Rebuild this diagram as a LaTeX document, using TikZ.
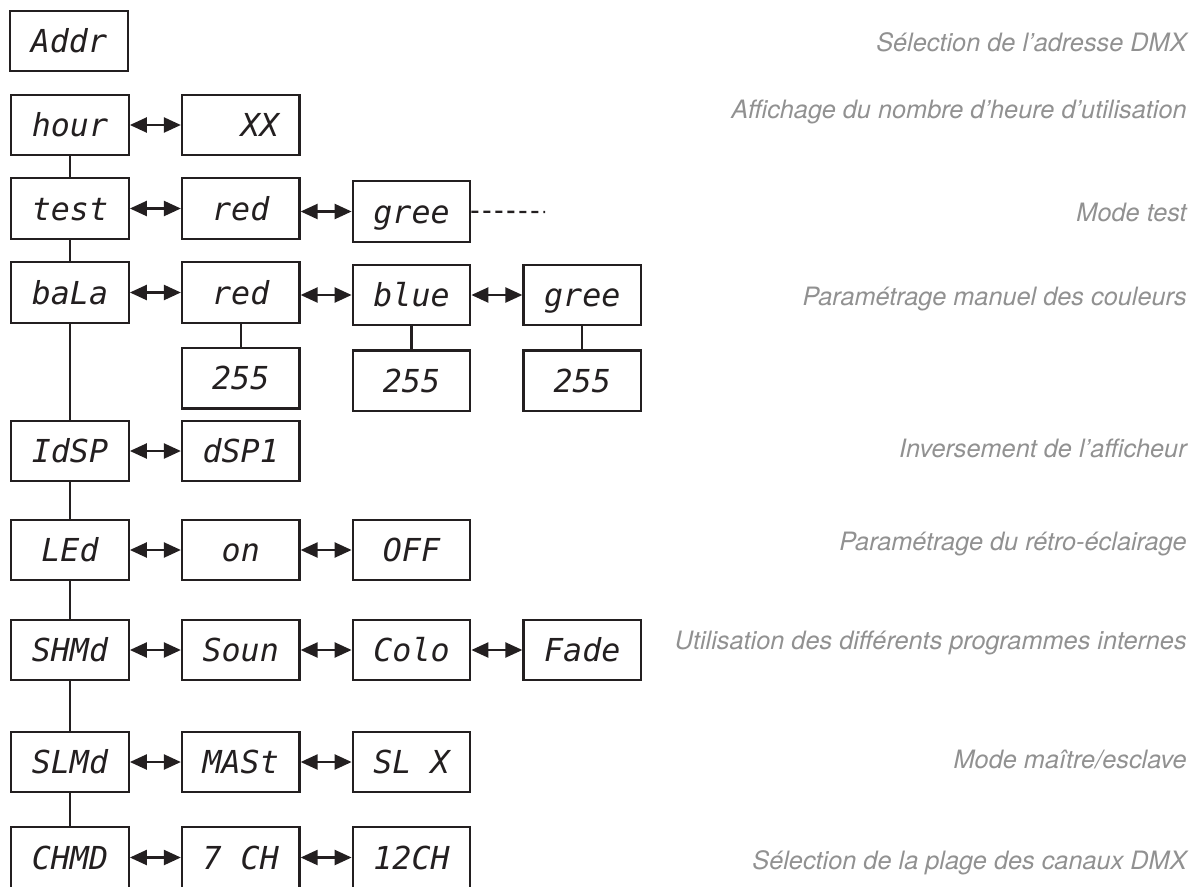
\documentclass[tikz,border=0pt]{standalone}
\usepackage{fontspec}
\usepackage{xcolor}
\usetikzlibrary{arrows.meta, positioning}
\newfontfamily\lcdfont{DejaVu Sans Mono}
\newfontfamily\descfont{TeX Gyre Heros}
\definecolor{panelBlack}{RGB}{35, 31, 32}
\definecolor{panelGray}{RGB}{145, 145, 145}

\begin{document}
\begin{tikzpicture}[x=0.02cm, y=-0.02cm, node distance=1.02cm]
        \tikzstyle{lcd} = [rectangle, draw=panelBlack, line width=1.3pt, minimum width=2.35cm, minimum height=1.21cm, inner sep=0pt, text=panelBlack, font=\lcdfont\itshape\fontsize{18}{20}\selectfont, text height=13.1pt, text depth=0pt]
        \tikzstyle{link} = [panelBlack, line width=1.3pt]
        \tikzstyle{biarrow} = [link, {Triangle[length=0.34cm, width=0.3cm]}-{Triangle[length=0.34cm, width=0.3cm]}]
        \tikzstyle{desc} = [anchor=base east, inner sep=0pt, text=panelGray, font=\descfont\itshape\fontsize{14.4}{17}\selectfont]

        \path[use as bounding box, clip] (0,0) rectangle (1197,886);

        % left column of menu entries
        \node[lcd] (addr) at (69,41) {Addr};
        \node[lcd] (hour) at (70,125) {hour};
        \node[lcd] (test) at (70,208.5) {test};
        \node[lcd] (bala) at (70,292.5) {baLa};
        \node[lcd] (idsp) at (70,451) {IdSP};
        \node[lcd] (led) at (70,550) {LEd};
        \node[lcd] (shmd) at (70,650) {SHMd};
        \node[lcd] (slmd) at (70,762) {SLMd};
        \node[lcd] (chmd) at (70,857.5) {CHMD};

        % sub menus
        \node[lcd, right=of hour] (hourval) {\phantom{XX}XX};
        \node[lcd, right=of test] (testred) {red};
        \node[lcd, right=of testred, yshift=-0.06cm] (testgree) {gree};
        \coordinate (testmore) at (545,212);
        \node[lcd, right=of bala] (balared) {red};
        \node[lcd, right=of balared, yshift=-0.05cm] (balablue) {blue};
        \node[lcd, right=of balablue] (balagree) {gree};
        \node[lcd, below=0.46cm of balared] (redval) {255};
        \node[lcd, below=0.46cm of balablue] (blueval) {255};
        \node[lcd, below=0.46cm of balagree] (greeval) {255};
        \node[lcd, right=of idsp] (dsp) {dSP1};
        \node[lcd, right=of led] (ledon) {on};
        \node[lcd, right=of ledon] (ledoff) {OFF};
        \node[lcd, right=of shmd] (soun) {Soun};
        \node[lcd, right=of soun] (colo) {Colo};
        \node[lcd, right=of colo] (fade) {Fade};
        \node[lcd, right=of slmd] (mast) {MASt};
        \node[lcd, right=of mast] (slx) {SL X};
        \node[lcd, right=of chmd] (ch7) {7 CH};
        \node[lcd, right=of ch7] (ch12) {12CH};

        % descriptions
        \node[desc] (descaddr) at (1187,51) {Sélection de l’adresse DMX};
        \node[desc] (deschour) at (1187,118) {Affichage du nombre d’heure d’utilisation};
        \node[desc] (desctest) at (1187,221) {Mode test};
        \node[desc] (descbala) at (1187,305) {Paramétrage manuel des couleurs};
        \node[desc] (descidsp) at (1187,457) {Inversement de l’afficheur};
        \node[desc] (descled) at (1187,550) {Paramétrage du rétro-éclairage};
        \node[desc] (descshmd) at (1187,649) {Utilisation des différents programmes internes};
        \node[desc] (descslmd) at (1187,768) {Mode maître/esclave};
        \node[desc] (descchmd) at (1187,869) {Sélection de la plage des canaux DMX};

        % menu spine
        \draw[link] (hour) -- (test);
        \draw[link] (test) -- (bala);
        \draw[link] (bala) -- (idsp);
        \draw[link] (idsp) -- (led);
        \draw[link] (led) -- (shmd);
        \draw[link] (shmd) -- (slmd);
        \draw[link] (slmd) -- (chmd);
        \draw[link] (balared) -- (redval);
        \draw[link] (balablue) -- (blueval);
        \draw[link] (balagree) -- (greeval);

        % browsing arrows
        \draw[biarrow] (hour) -- (hourval);
        \draw[biarrow] (test) -- (testred);
        \draw[biarrow] (testred.east |- testgree) -- (testgree);
        \draw[link, dash pattern=on 0.14cm off 0.1cm] (testgree) -- (testmore);
        \draw[biarrow] (bala) -- (balared);
        \draw[biarrow] (balared.east |- balablue) -- (balablue);
        \draw[biarrow] (balablue) -- (balagree);
        \draw[biarrow] (idsp) -- (dsp);
        \draw[biarrow] (led) -- (ledon);
        \draw[biarrow] (ledon) -- (ledoff);
        \draw[biarrow] (shmd) -- (soun);
        \draw[biarrow] (soun) -- (colo);
        \draw[biarrow] (colo) -- (fade);
        \draw[biarrow] (slmd) -- (mast);
        \draw[biarrow] (mast) -- (slx);
        \draw[biarrow] (chmd) -- (ch7);
        \draw[biarrow] (ch7) -- (ch12);
    \end{tikzpicture}
\end{document}
